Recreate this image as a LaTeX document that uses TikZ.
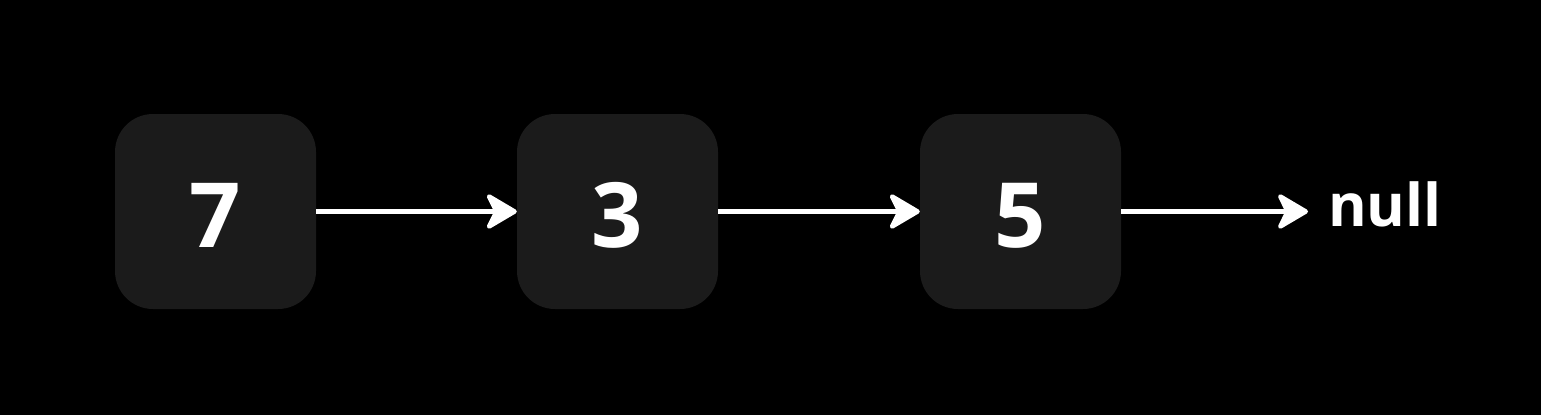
\documentclass[tikz,border=0pt]{standalone}
\usepackage{fontspec}
\setmainfont{Open Sans}
\usetikzlibrary{arrows.meta}
\begin{document}
\begin{tikzpicture}[x=1pt,y=-1pt,
  cell/.style={fill=boxgray, rounded corners=38pt, minimum width=201pt, minimum height=195pt, inner sep=0pt, text height=71pt, text depth=0pt, text=white, font=\fontsize{90}{90}\selectfont\bfseries},
  link/.style={draw=white, line width=4.5pt, -{Stealth[length=35pt,width=41pt,inset=10pt,round]}},
  nulltext/.style={text=white, font=\fontsize{59}{59}\selectfont\bfseries, anchor=west, inner sep=0pt}]
\definecolor{boxgray}{HTML}{1B1B1B}
\fill[black] (0,0) rectangle (1541,415);
\useasboundingbox (0,0) rectangle (1541,415);
\node[cell] (a) at (215.5,211.5) {7};
\node[cell] (b) at (617.5,211.5) {3};
\node[cell] (c) at (1020.5,211.5) {5};
\node[nulltext] (n) at (1328,204.5) {null};
\coordinate (nend) at (1308,211.5);
\draw[link] (a.east) -- (b.west);
\draw[link] (b.east) -- (c.west);
\draw[link] (c.east) -- (nend);
\end{tikzpicture}
\end{document}
